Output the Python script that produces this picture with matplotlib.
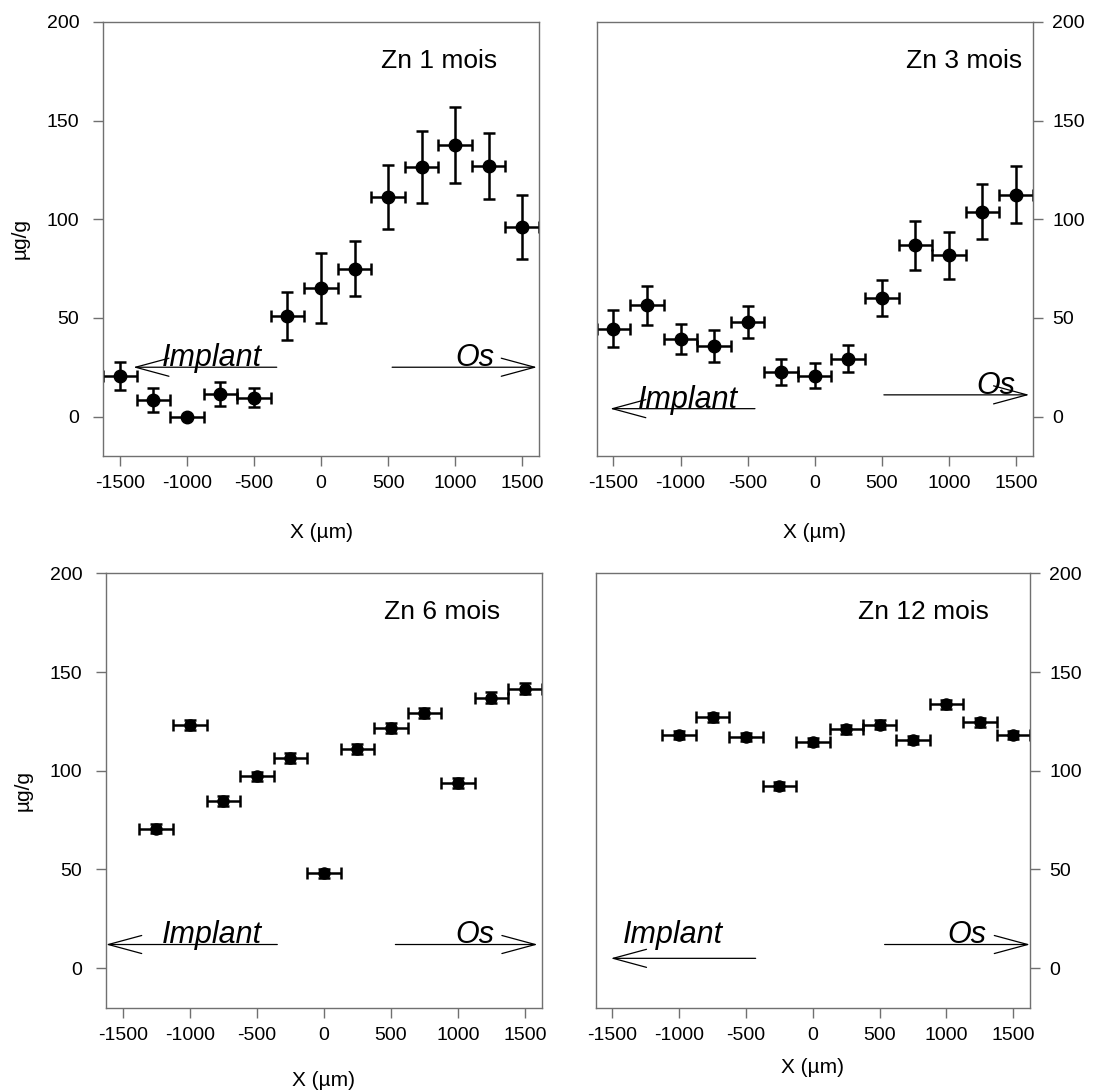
import numpy as np
import matplotlib.pyplot as plt

plt.rcParams['font.family'] = ['Liberation Sans', 'DejaVu Sans']
plt.rcParams['axes.unicode_minus'] = False

# positions (µm)
x_pos = [-1500, -1250, -1000, -750, -500, -250, 0, 250, 500, 750, 1000, 1250, 1500]
x_err = 125

# Zn 1 mois
zn1 = [20.6, 8.3, 0.0, 11.3, 9.6, 50.8, 65.0, 75.0, 111.3, 126.5, 137.5, 127.2, 96.1]
zn1_err = [7.0, 6.2, 0.0, 6.2, 4.9, 12.2, 17.7, 14.0, 16.1, 18.2, 19.2, 16.7, 16.3]

# Zn 3 mois
zn3 = [44.6, 56.3, 39.4, 35.8, 48.0, 22.5, 20.8, 29.4, 60.3, 86.7, 81.8, 103.9, 112.5]
zn3_err = [9.2, 10.1, 7.6, 8.1, 8.0, 6.7, 6.4, 6.7, 9.1, 12.4, 11.9, 13.9, 14.4]

# Zn 6 mois (no point at -1500)
x6 = [-1250, -1000, -750, -500, -250, 0, 250, 500, 750, 1000, 1250, 1500]
zn6 = [70.6, 123.2, 84.6, 97.1, 106.6, 48.1, 110.8, 121.5, 129.4, 93.9, 137.0, 141.6]
zn6_err = [2.3, 2.5, 2.5, 2.4, 2.5, 2.3, 2.5, 2.5, 2.6, 2.6, 2.7, 2.6]

# Zn 12 mois
x12 = [-1000, -750, -500, -250, 0, 250, 500, 750, 1000, 1250, 1500]
zn12 = [118.1, 127.1, 117.3, 92.4, 114.7, 121.0, 123.4, 115.6, 133.7, 124.6, 118.1]
zn12_err = [2.0, 2.2, 2.0, 2.0, 2.0, 2.2, 2.2, 2.0, 2.2, 2.2, 2.0]

titles = ['Zn 1 mois', 'Zn 3 mois', 'Zn 6 mois', 'Zn 12 mois']

fig = plt.figure(figsize=(10.96, 10.92), dpi=100)

boxes = [
    [0.094, 0.5824, 0.3978, 0.3975],
    [0.5444, 0.5824, 0.3978, 0.3975],
    [0.0967, 0.0772, 0.3975, 0.3978],
    [0.5435, 0.0772, 0.3963, 0.3978],
]

series = [
    (x_pos, zn1, zn1_err, 9),
    (x_pos, zn3, zn3_err, 9),
    (x6, zn6, zn6_err, 8),
    (x12, zn12, zn12_err, 8),
]

# arrows: (implant tip, implant end, y_implant, implant text x, text y,
#          os start, os tip, y_os, os text right x, os text y)
arrows = [
    (-1400, -330, 25, -1190, 25.5, 530, 1610, 25, 1290, 25.5),
    (-1525, -445, 4, -1320, 4.5, 516, 1600, 11, 1495, 11.5),
    (-1625, -347, 12, -1210, 13, 534, 1595, 12, 1275, 13),
    (-1512, -428, 5, -1420, 13, 537, 1625, 12, 1295, 13),
]

frame_col = '#707070'

for i, (box, (xs, ys, es, ms)) in enumerate(zip(boxes, series)):
    ax = fig.add_axes(box)
    ax.errorbar(xs, ys, yerr=es, xerr=x_err, fmt='o', color='black',
                markersize=ms, elinewidth=1.8, capsize=4.5, capthick=1.8)
    ax.set_xlim(-1625, 1625)
    ax.set_ylim(-20, 200)
    ax.set_xticks([-1500, -1000, -500, 0, 500, 1000, 1500])
    ax.set_yticks([0, 50, 100, 150, 200])
    for s in ax.spines.values():
        s.set_color(frame_col)
        s.set_linewidth(1.0)
    ax.tick_params(colors=frame_col, labelcolor='black', labelsize=14,
                   length=7, width=1.0, pad=7)
    if i % 2 == 1:
        ax.yaxis.tick_right()
        ax.tick_params(axis='y', pad=7)
    else:
        ax.tick_params(axis='y', pad=10)
        ax.set_ylabel('µg/g', fontsize=15, labelpad=12)
    lp = 22 if i < 2 else 19
    if i == 3:
        lp = 10
    ax.set_xlabel('X (µm)', fontsize=15, labelpad=lp)
    ax.text(0.905 if i != 1 else 0.975, 0.895, titles[i], transform=ax.transAxes,
            ha='right', va='baseline', fontsize=19)

    it, ie, iy, itx, ity, os0, ot, oy, otx, oty = arrows[i]
    aprops = dict(arrowstyle='->,head_length=2.4,head_width=0.65',
                  color='black', lw=0.9, shrinkA=0, shrinkB=0)
    ax.annotate('', xy=(it, iy), xytext=(ie, iy), arrowprops=aprops,
                annotation_clip=False)
    ax.annotate('', xy=(ot, oy), xytext=(os0, oy), arrowprops=aprops,
                annotation_clip=False)
    ax.text(itx, ity, 'Implant', style='italic', fontsize=22, ha='left',
            va='baseline')
    ax.text(otx, oty, 'Os', style='italic', fontsize=22, ha='right',
            va='baseline')

fig.savefig('out.png', dpi=100)
